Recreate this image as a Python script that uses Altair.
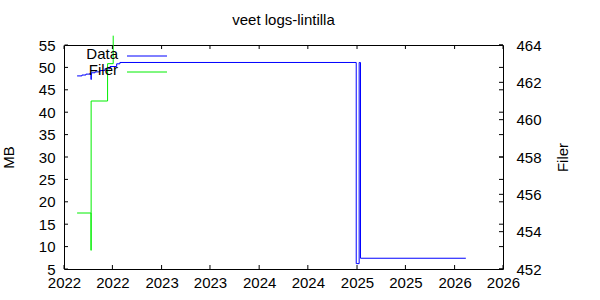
import altair as alt
import pandas as pd

FONT = "Liberation Sans"
TITLE = "veet logs-lintilla"

# --- data ---
data_dates = ["2022-02-19", "2022-03-09", "2022-03-24", "2022-04-08", "2022-04-12",
              "2022-04-13", "2022-04-27", "2022-05-15", "2022-06-03", "2022-06-22",
              "2022-07-17", "2022-07-29", "2024-12-29", "2025-01-09", "2025-01-14",
              "2026-02-12"]
data_mb = [48.1, 48.3, 48.5, 48.7, 47.3, 48.8, 49.0, 49.3, 49.7, 50.2,
           50.8, 51.1, 6.2, 51.1, 7.4, 7.4]

filer_dates = ["2022-02-19", "2022-04-12", "2022-04-12T12:00:00Z", "2022-06-13", "2022-07-04"]
filer_counts = [455, 453, 461, 463, 464.5]

x_ticks = ["2022-01-01", "2022-07-01", "2023-01-01", "2023-07-01", "2024-01-01",
           "2024-07-01", "2025-01-01", "2025-07-01", "2026-01-01", "2026-07-01"]
mb_ticks = [5, 10, 15, 20, 25, 30, 35, 40, 45, 50, 55]
filer_ticks = [452, 454, 456, 458, 460, 462, 464]

legend_labels = ["Data", "Filer"]
legend_colors = ["#0000ff", "#00ee00"]

W, H = 439, 224
TICK = 4


def dt(s):
    y, m, d = s.split("-")
    return alt.DateTime(year=int(y), month=int(m), date=int(d), utc=True)


def xscale():
    return alt.Scale(type="utc", domain=[dt(x_ticks[0]), dt(x_ticks[-1])])


def yscale_l():
    return alt.Scale(domain=[mb_ticks[0], mb_ticks[-1]], nice=False, zero=False)


def yscale_r():
    return alt.Scale(domain=[filer_ticks[0], filer_ticks[-1]], nice=False, zero=False)


df_data = pd.DataFrame({"t": data_dates, "mb": data_mb})
df_filer = pd.DataFrame({"t": filer_dates, "n": filer_counts})
df_xt = pd.DataFrame({"t": x_ticks})
df_lt = pd.DataFrame({"v": mb_ticks})
df_rt = pd.DataFrame({"v": filer_ticks})

x_axis = alt.Axis(values=[dt(s) for s in x_ticks], format="%Y", orient="bottom",
                  ticks=False, domain=False, grid=False,
                  labelFont=FONT, labelFontSize=15, labelColor="black",
                  labelPadding=6, labelFlush=False, labelOverlap=False, title=None)

left_axis = alt.Axis(values=mb_ticks, orient="left", ticks=False,
                     domain=False, grid=False, labelFont=FONT, labelFontSize=15,
                     labelColor="black", labelPadding=9, labelOverlap=False,
                     title="MB", titleFont=FONT, titleFontSize=15,
                     titleFontWeight="normal", titleColor="black", titleAngle=270,
                     titleX=-51, titleY=H / 2, titleAlign="center",
                     titleBaseline="alphabetic")

right_axis = alt.Axis(values=filer_ticks, orient="right", ticks=False,
                      domain=False, grid=False, labelFont=FONT, labelFontSize=15,
                      labelColor="black", labelPadding=13, labelOverlap=False,
                      title="Filer", titleFont=FONT, titleFontSize=15,
                      titleFontWeight="normal", titleColor="black", titleAngle=270,
                      titleX=64, titleY=H / 2, titleAlign="center",
                      titleBaseline="alphabetic")

data_line = alt.Chart(df_data).mark_line(
    interpolate="step-after", color=legend_colors[0], strokeWidth=1, clip=True
).encode(
    x=alt.X("t:T", scale=xscale(), axis=x_axis),
    y=alt.Y("mb:Q", scale=yscale_l(), axis=left_axis),
)

filer_line = alt.Chart(df_filer).mark_line(
    interpolate="step-after", color=legend_colors[1], strokeWidth=1, clip=False
).encode(
    x=alt.X("t:T", scale=xscale(), axis=None),
    y=alt.Y("n:Q", scale=yscale_r(), axis=right_axis),
)

# inward ticks (gnuplot style, mirrored)
xt_bottom = alt.Chart(df_xt).mark_rule(color="black", strokeWidth=1).encode(
    x=alt.X("t:T", scale=xscale(), axis=None), y=alt.value(H), y2=alt.value(H - TICK))
xt_top = alt.Chart(df_xt).mark_rule(color="black", strokeWidth=1).encode(
    x=alt.X("t:T", scale=xscale(), axis=None), y=alt.value(TICK), y2=alt.value(0.5))
lt_left = alt.Chart(df_lt).mark_rule(color="black", strokeWidth=1).encode(
    y=alt.Y("v:Q", scale=yscale_l(), axis=None), x=alt.value(TICK), x2=alt.value(0.5))
lt_right = alt.Chart(df_lt).mark_rule(color="black", strokeWidth=1).encode(
    y=alt.Y("v:Q", scale=yscale_l(), axis=None), x=alt.value(W), x2=alt.value(W - TICK))
rt_right = alt.Chart(df_rt).mark_rule(color="black", strokeWidth=1).encode(
    y=alt.Y("v:Q", scale=yscale_r(), axis=None), x=alt.value(W), x2=alt.value(W - TICK))

# key (gnuplot style: label left, sample right)
legend_layers = []
one = pd.DataFrame({"k": [0]})
for i, (lab, col) in enumerate(zip(legend_labels, legend_colors)):
    yy = 10 + 16 * i
    legend_layers.append(
        alt.Chart(one).mark_text(font=FONT, fontSize=15, color="black",
                                 align="right", baseline="middle").encode(
            x=alt.value(54), y=alt.value(yy - 1), text=alt.value(lab)))
    legend_layers.append(
        alt.Chart(one).mark_rule(color=col, strokeWidth=1).encode(
            x=alt.value(63), x2=alt.value(103), y=alt.value(yy + 1)))

chart = alt.layer(
    data_line, filer_line, xt_bottom, xt_top, lt_left, lt_right, rt_right, *legend_layers
).resolve_scale(
    x="independent", y="independent"
).properties(
    width=W, height=H,
    title=alt.TitleParams(text=TITLE, font=FONT, fontSize=15, fontWeight="normal",
                          color="black", anchor="middle", offset=6),
    autosize=alt.AutoSizeParams(type="none"),
    padding={"left": 64, "top": 45, "right": 600 - 64 - W, "bottom": 300 - 45 - H},
    background="white",
).configure_view(stroke="black", strokeWidth=1)

chart.save("out.html", embed_options={"renderer": "svg", "actions": False})
